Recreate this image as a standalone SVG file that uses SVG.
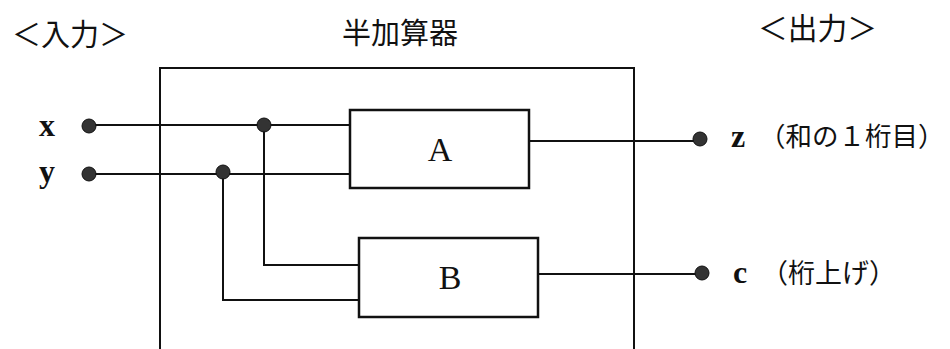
<svg xmlns="http://www.w3.org/2000/svg" width="950" height="349" viewBox="0 0 950 349">
<style>
.t{font-family:"Liberation Serif","Noto Sans CJK JP",serif;fill:#111}
.l{font-family:"Liberation Serif",serif;fill:#111;font-weight:bold;font-size:32px}
.j{font-family:"Noto Sans CJK JP",sans-serif;fill:#111}
.w{fill:none;stroke:#111;stroke-width:2}
.b{fill:#fff;stroke:#111;stroke-width:2.5}
.d{fill:#333;stroke:#111;stroke-width:1}
</style>
<rect width="950" height="349" fill="#fff"/>
<text class="j" x="12" y="45" font-size="30" textLength="116" lengthAdjust="spacingAndGlyphs">＜入力＞</text>
<text class="j" x="342" y="44" font-size="29" textLength="116" lengthAdjust="spacingAndGlyphs">半加算器</text>
<text class="j" x="758" y="39" font-size="30" textLength="119" lengthAdjust="spacingAndGlyphs">＜出力＞</text>
<g id="halfadder">
<path class="w" d="M160,360 V68 H634 V360" stroke-width="2.5"/>
</g>
<g id="connectors">
<path class="w" d="M89,125 H350"/>
<path class="w" d="M89,174 H350"/>
<path class="w" d="M264,125 V265 H359"/>
<path class="w" d="M223,172 V300 H359"/>
<path class="w" d="M529,141 H700"/>
<path class="w" d="M538,274 H702"/>
</g>
<g id="in-x"><circle class="d" cx="89" cy="126" r="7"/><text class="l" x="39" y="136">x</text></g>
<g id="in-y"><circle class="d" cx="89" cy="174" r="7"/><text class="l" x="39" y="182">y</text></g>
<g id="jx"><circle class="d" cx="264" cy="125" r="7"/></g>
<g id="jy"><circle class="d" cx="223" cy="172" r="7"/></g>
<g id="A"><rect class="b" x="350" y="110" width="179" height="78"/><text class="t" x="440" y="161" font-size="34" text-anchor="middle">A</text></g>
<g id="B"><rect class="b" x="359" y="238" width="179" height="79"/><text class="t" x="450" y="289" font-size="34" text-anchor="middle">B</text></g>
<g id="out-z"><circle class="d" cx="700" cy="139" r="7"/><text class="l" x="731" y="147">z</text><text class="j" x="759" y="146" font-size="26.5">（和の１桁目）</text></g>
<g id="out-c"><circle class="d" cx="702" cy="273" r="7"/><text class="l" x="733" y="283">c</text><text class="j" x="761" y="283" font-size="27">（桁上げ）</text></g>
</svg>
